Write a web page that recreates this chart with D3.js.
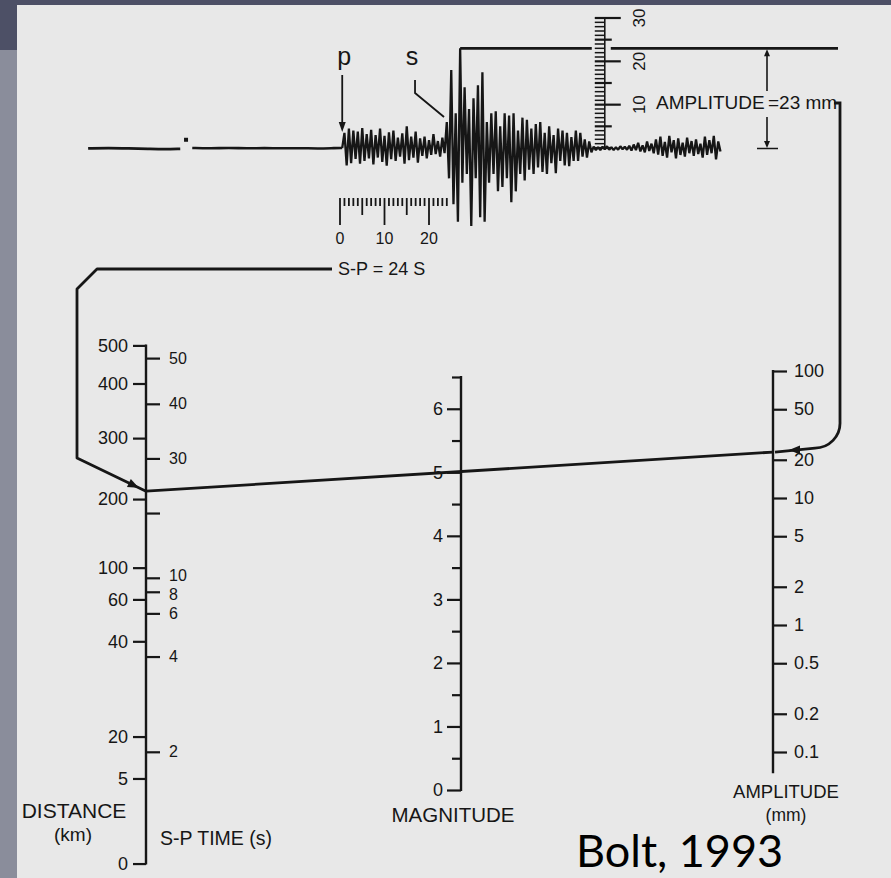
<!DOCTYPE html>
<html>
<head>
<meta charset="utf-8">
<title>Richter nomogram (Bolt, 1993)</title>
<script src="https://cdn.jsdelivr.net/npm/d3@7"></script>
<style>
  html, body { margin: 0; padding: 0; background: #8a8d9b; overflow: hidden; }
  svg { display: block; }
</style>
</head>
<body>
<script>
/* global d3 */
(function () {
  'use strict'

  // left scale: distance (km) and S-P time (s), each label read off
  // the figure as its -log A0 correction value
  var distTicks = [500, 400, 300, 200, 100, 60, 40, 20, 5, 0]
  var distCorr = [4.80, 4.50, 4.07, 3.59, 3.05, 2.80, 2.47, 1.72, 1.39, 0.72]
  var spTicks = [50, 40, 30, 20, 10, 8, 6, 4, 2]
  var spLabels = ['50', '40', '30', '', '10', '8', '6', '4', '2']
  var spCorr = [4.70, 4.34, 3.91, 3.48, 2.97, 2.86, 2.69, 2.35, 1.60]

  // middle scale: magnitude
  var magMajor = [0, 1, 2, 3, 4, 5, 6]
  var magMinor = [0.5, 1.5, 2.5, 3.5, 4.5, 5.5, 6.5]
  var magTop = 6.5

  // right scale: amplitude (mm)
  var ampTicks = [100, 50, 20, 10, 5, 2, 1, 0.5, 0.2, 0.1]
  var ampLabels = ['100', '50', '20', '10', '5', '2', '1', '0.5', '0.2', '0.1']
  var ampLow = 0.068

  // readings from the record
  var spTime = 24
  var ampRead = 23
  var pTime = 0.5
  var sTime = 24.5
  var peakTime = 27

  // seismogram, mm of pen deflection
  var preEvent = [[-56.6, -0.1], [-52, 0], [-47.5, -0.1], [-43, -0.2], [-39.5, -0.3], [-35.9, -0.2]]
  var preEvent2 = [[-33.2, 0], [-29, -0.1], [-25, 0.05], [-21, -0.1], [-17, 0],
    [-13, -0.1], [-9, 0], [-5, -0.15], [-1, 0], [0.5, 0]]
  var blip = [-34.6, 1.9]
  // every 0.5 s from P onward
  var pWaves = [0, 3.5, -4, 4.5, -3.5, 4, -2.5, 3.8, -3.6, 4.6, -3, 3.2, -2.4, 4.2, -3.8, 3,
    -2.2, 4.5, -3.2, 2.8, -4.1, 3.6, -2.6, 4, -3, 2.4, -2, 3.4, -3.6, 5, -2.8, 2.6, -2.2,
    3.8, -3.4, 2.2, -1.8, 2.6, -2.4, 1.8, -1.6, 3.2, -1.4, 1.6, -2, 2.4, -1.2]
  var sWaves = [6, -7, 18, -13, 8, -17, 23, -8, 14, -6,
    9, -18, 11.5, -7, 14.5, -16, 17.5, -17, 6, -8,
    8, -6, 8.5, -10, 5, -9, 8, -7, 7.5, -12.5,
    8, -10, 4, -6, 7, -7.5, 6.5, -5, 4.5, -6,
    5.5, -4.5, 6, -5.5, 3.5, -6, 5, -3.5, 3, -5.8,
    4.5, -3, 4, -4, 3.5, -4.2, 2.5, -3, 4, -3,
    3.5, -2, 2, -2.2, 1.5, -1]
  var quiet = [0.3, -0.5, 0.2, -0.5, 0.3, -0.3, 0.4, -0.4, 0.2, -0.5, 0.2, -0.4, 0.4, -0.3, 0.3, -0.4]
  var coda = [0.5, -0.6, 0.8, -0.5, 1.2, -0.8, 0.6, -1, 1.5, -0.7, 1, -1.2, 2, -1.5, 2.6, -1.8,
    1.4, -2.2, 2.8, -1, 1.8, -2.4, 2.2, -1.6, 1.2, -2, 2.4, -1.2, 1.6, -1.8, 2, -1.4, 1, -2.2,
    2.6, -1.6, 1.8, -1.2, 2.8, -2.6, 1.5, -0.8]
  var stepS = 0.5
  var timeLabels = [0, 10, 20]
  var rulerLabels = [10, 20, 30]

  var w = 891
  var h = 878
  var ink = '#161616'
  var font = "'Liberation Sans', Arial, Helvetica, sans-serif"

  var svg = d3.select('body').append('svg')
    .attr('width', w)
    .attr('height', h)

  // slide frame
  svg.append('rect').attr('x', 0).attr('y', 0).attr('width', w).attr('height', 6).attr('fill', '#4d5066')
  svg.append('rect').attr('x', 0).attr('y', 0).attr('width', 17).attr('height', 50).attr('fill', '#4d5066')
  svg.append('rect').attr('x', 17).attr('y', 5).attr('width', w - 17).attr('height', h - 5).attr('fill', '#e8e8e8')

  // nomogram scales (one log unit = 127 px on the outer scales)
  var xL = 146
  var xM = 461
  var xR = 773
  var corrY = d3.scaleLinear().domain([0, 5]).range([955, 320])
  var distY = d3.scaleLinear().domain(distTicks).range(distCorr.map(corrY))
  var spY = d3.scaleLinear().domain(spTicks).range(spCorr.map(corrY))
  var spToCorr = d3.scaleLinear().domain(spTicks).range(spCorr)
  var magY = d3.scaleLinear().domain([0, magTop]).range([790, 377])
  var ampY = d3.scaleLog().domain([0.1, 100]).range([752, 371])

  function styleAxis (g) {
    g.select('.domain').remove()
    g.attr('font-family', font).attr('font-size', 18)
    g.selectAll('.tick line').attr('stroke', ink).attr('stroke-width', 2.2)
    g.selectAll('.tick text').attr('fill', ink)
  }

  function axisLine (x, y0, y1) {
    svg.append('line')
      .attr('x1', x).attr('x2', x)
      .attr('y1', y0).attr('y2', y1)
      .attr('stroke', ink).attr('stroke-width', 2.4)
  }

  // distance / S-P scale
  axisLine(xL, distY(distTicks[0]) - 1, distY(distTicks[distTicks.length - 1]) + 1)
  svg.append('g')
    .attr('transform', 'translate(' + xL + ',0)')
    .call(d3.axisLeft(distY).tickValues(distTicks).tickSize(13).tickPadding(5))
    .call(styleAxis)
  svg.append('g')
    .attr('transform', 'translate(' + xL + ',0)')
    .call(d3.axisRight(spY).tickValues(spTicks).tickSize(14).tickPadding(9)
      .tickFormat(function (d, i) { return spLabels[i] }))
    .call(styleAxis)
    .call(function (g) {
      // the 10 and 8 labels sit a little apart from their ticks in the figure
      g.selectAll('.tick text')
        .attr('font-size', 16)
        .attr('y', function (d) { return d === 8 ? 2.5 : d === 10 ? -2 : 0 })
    })

  // magnitude scale
  axisLine(xM, magY(magTop) - 1, magY(0) + 1)
  svg.append('g')
    .attr('transform', 'translate(' + xM + ',0)')
    .call(d3.axisLeft(magY).tickValues(magMajor).tickSize(14).tickPadding(4)
      .tickFormat(d3.format('d')))
    .call(styleAxis)
  svg.append('g')
    .attr('transform', 'translate(' + xM + ',0)')
    .call(d3.axisLeft(magY).tickValues(magMinor).tickSize(9).tickFormat(''))
    .call(styleAxis)

  // amplitude scale
  axisLine(xR, ampY(ampTicks[0]) - 1, ampY(ampLow))
  svg.append('g')
    .attr('transform', 'translate(' + xR + ',0)')
    .call(d3.axisRight(ampY).tickValues(ampTicks).tickSize(14).tickPadding(7)
      .tickFormat(function (d, i) { return ampLabels[i] }))
    .call(styleAxis)

  // scale titles
  function label (x, y, txt, size, anchor) {
    return svg.append('text')
      .attr('x', x).attr('y', y)
      .attr('font-family', font)
      .attr('font-size', size)
      .attr('text-anchor', anchor || 'middle')
      .attr('fill', ink)
      .text(txt)
  }
  label(74, 818, 'DISTANCE', 21)
  label(73, 841, '(km)', 19)
  label(160, 845, 'S-P TIME (s)', 19.5, 'start')
  label(453, 822, 'MAGNITUDE', 20.5)
  label(786, 798, 'AMPLITUDE', 18.5)
  label(786, 821, '(mm)', 17.5)

  // the reading line through the three scales
  var cSP = spToCorr(spTime)
  var yLeft = corrY(cSP)
  var yRight = ampY(ampRead)
  svg.append('line')
    .attr('x1', xL).attr('y1', yLeft)
    .attr('x2', xR).attr('y2', yRight)
    .attr('stroke', ink).attr('stroke-width', 2.8)

  function arrowHead (x, y, ang, len, half) {
    var dx = Math.cos(ang)
    var dy = Math.sin(ang)
    var pts = [
      [x, y],
      [x - len * dx - half * dy, y - len * dy + half * dx],
      [x - len * dx + half * dy, y - len * dy - half * dx]
    ]
    svg.append('path')
      .attr('d', 'M' + pts.join('L') + 'Z')
      .attr('fill', ink)
  }

  // seismogram
  var tScale = d3.scaleLinear().domain([0, 20]).range([340, 429])
  var yTrace = d3.scaleLinear().domain([0, 30]).range([148, 18])

  function sampled (vals, t0) {
    return vals.map(function (v, i) { return [t0 + i * stepS, v] })
  }
  var trace = [].concat(
    sampled(pWaves, pTime),
    sampled(sWaves, 24),
    sampled(quiet, 57),
    sampled(coda, 65))

  var line = d3.line()
    .x(function (d) { return tScale(d[0]) })
    .y(function (d) { return yTrace(d[1]) })

  svg.append('path').datum(preEvent).attr('d', line.curve(d3.curveBasis))
    .attr('fill', 'none').attr('stroke', ink).attr('stroke-width', 2.8)
  svg.append('path').datum(preEvent2).attr('d', line)
    .attr('fill', 'none').attr('stroke', ink).attr('stroke-width', 2.6)
  line.curve(d3.curveLinear)
  svg.append('rect')
    .attr('x', tScale(blip[0]) - 2).attr('y', yTrace(blip[1]) - 2)
    .attr('width', 4).attr('height', 4).attr('fill', ink)
  svg.append('path').datum(trace).attr('d', line)
    .attr('fill', 'none').attr('stroke', ink).attr('stroke-width', 2.3)
    .attr('stroke-linejoin', 'bevel')

  // time ruler under the record
  var ruleTop = 198
  svg.append('g').selectAll('line')
    .data(d3.range(0, 25))
    .enter().append('line')
      .attr('x1', function (d) { return tScale(d) })
      .attr('x2', function (d) { return tScale(d) })
      .attr('y1', ruleTop)
      .attr('y2', function (d) { return ruleTop + (d % 10 === 0 ? 27 : d % 5 === 0 ? 17 : 8) })
      .attr('stroke', ink)
      .attr('stroke-width', 1.8)
  svg.append('g').selectAll('text')
    .data(timeLabels)
    .enter().append('text')
      .attr('x', function (d) { return tScale(d) })
      .attr('y', 244)
      .attr('text-anchor', 'middle')
      .attr('font-family', font)
      .attr('font-size', 16)
      .attr('fill', ink)
      .text(function (d) { return d })

  // p and s picks
  var xP = tScale(pTime)
  var xS = tScale(sTime)
  label(xP + 2, 65, 'p', 25)
  label(xS - 37, 65, 's', 25)
  svg.append('line')
    .attr('x1', xP).attr('x2', xP)
    .attr('y1', 75).attr('y2', 124)
    .attr('stroke', ink).attr('stroke-width', 1.8)
  arrowHead(xP, 132, Math.PI / 2, 10, 3.5)
  svg.append('path')
    .attr('d', 'M' + (xS - 34) + ',80V93L' + (xS - 5) + ',117')
    .attr('fill', 'none').attr('stroke', ink).attr('stroke-width', 1.8)

  // amplitude ruler
  var xRule = tScale(59.5)
  svg.append('line')
    .attr('x1', xRule).attr('x2', xRule)
    .attr('y1', yTrace(30)).attr('y2', yTrace(0))
    .attr('stroke', ink).attr('stroke-width', 1.6)
  svg.append('g').selectAll('line')
    .data(d3.range(0, 31))
    .enter().append('line')
      .attr('x1', xRule - 10)
      .attr('x2', function (d) { return xRule + (d % 10 === 0 && d > 0 ? 16 : d % 5 === 0 ? 7 : 0) })
      .attr('y1', function (d) { return yTrace(d) })
      .attr('y2', function (d) { return yTrace(d) })
      .attr('stroke', ink)
      .attr('stroke-width', function (d) { return d % 5 === 0 ? 2.2 : 1.5 })
  svg.append('g').selectAll('text')
    .data(rulerLabels)
    .enter().append('text')
      .attr('transform', function (d) { return 'translate(' + (xRule + 40) + ',' + yTrace(d) + ') rotate(-90)' })
      .attr('text-anchor', 'middle')
      .attr('font-family', font)
      .attr('font-size', 17)
      .attr('fill', ink)
      .text(function (d) { return d })

  // 23 mm peak level
  var yPeak = yTrace(ampRead)
  var xPeak = tScale(peakTime)
  svg.append('line')
    .attr('x1', xPeak).attr('x2', xRule - 13)
    .attr('y1', yPeak).attr('y2', yPeak)
    .attr('stroke', ink).attr('stroke-width', 2.8)
  svg.append('line')
    .attr('x1', xRule + 6).attr('x2', 838)
    .attr('y1', yPeak).attr('y2', yPeak)
    .attr('stroke', ink).attr('stroke-width', 2.8)

  // double arrow for the amplitude
  var xArr = 767
  svg.append('line')
    .attr('x1', xArr).attr('x2', xArr)
    .attr('y1', yPeak + 6).attr('y2', 91)
    .attr('stroke', ink).attr('stroke-width', 1.6)
  svg.append('line')
    .attr('x1', xArr).attr('x2', xArr)
    .attr('y1', 117).attr('y2', yTrace(0) - 6)
    .attr('stroke', ink).attr('stroke-width', 1.6)
  arrowHead(xArr, yPeak + 1, -Math.PI / 2, 7, 3)
  arrowHead(xArr, yTrace(0), Math.PI / 2, 7, 3)
  svg.append('line')
    .attr('x1', xArr - 10).attr('x2', xArr + 11)
    .attr('y1', yTrace(0) + 0.5).attr('y2', yTrace(0) + 0.5)
    .attr('stroke', ink).attr('stroke-width', 1.5)
  label(656, 109, 'AMPLITUDE', 19, 'start')
  label(768, 109, '=23 mm', 19, 'start')

  // guide from S-P reading down to the distance scale
  var gL = [[332, 269], [97, 269], [77, 289], [77, 458], [xL, yLeft]]
  svg.append('path')
    .attr('d', d3.line()(gL))
    .attr('fill', 'none').attr('stroke', ink).attr('stroke-width', 2.8)
    .attr('stroke-linejoin', 'round')
  var angL = Math.atan2(yLeft - 458, xL - 77)
  arrowHead(xL - 8 * Math.cos(angL), yLeft - 8 * Math.sin(angL), angL, 11, 4.5)
  label(338, 275, 'S-P = 24 S', 18, 'start')

  // guide from the amplitude reading to the amplitude scale
  svg.append('path')
    .attr('d', 'M834,103H840V' + (yRight - 30) + 'A25,25 0 0 1 815,' + (yRight - 4) + 'L' + (xR + 2) + ',' + yRight)
    .attr('fill', 'none').attr('stroke', ink).attr('stroke-width', 2.8)
  arrowHead(789, yRight - 2, Math.PI, 11, 4.5)

  // source
  svg.append('text')
    .attr('x', 576).attr('y', 867)
    .attr('font-family', "Lato, 'Open Sans', sans-serif")
    .attr('font-size', 45)
    .attr('fill', '#000')
    .text('Bolt, 1993')
}())
</script>
</body>
</html>
